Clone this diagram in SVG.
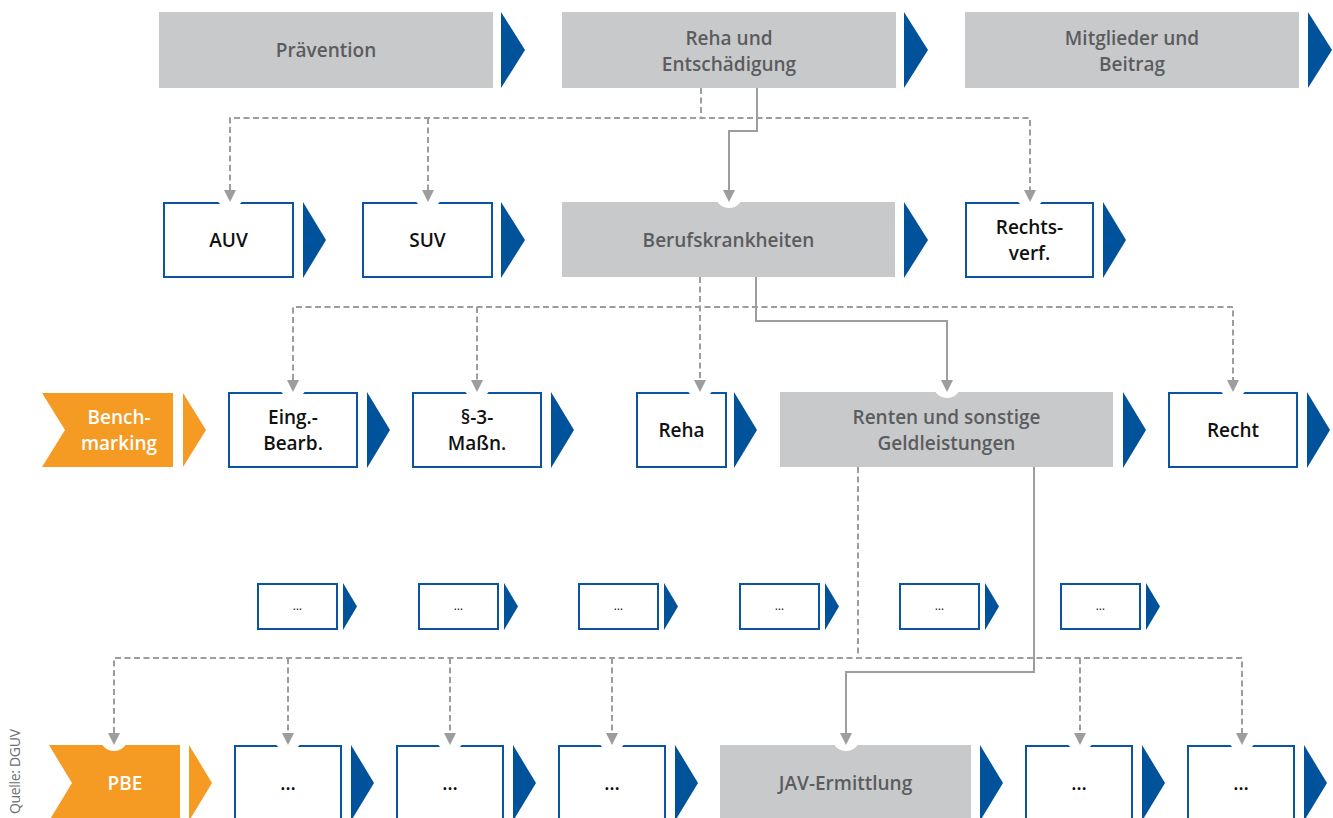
<svg xmlns="http://www.w3.org/2000/svg" xmlns:xlink="http://www.w3.org/1999/xlink" width="1333" height="818" viewBox="0 0 1333 818">
<style>
.g{fill:#c8c9cb}
.o{fill:#fff;stroke:#0a55a0;stroke-width:2}
.bt{fill:#00529b}
.or{fill:#f59a23}
.t{font-family:"Open Sans","Liberation Sans",sans-serif;font-size:19px;font-weight:600;text-anchor:middle}
.tg{fill:#5b5c5e}
.tk{fill:#111}
.tw{fill:#fff}
.td{font-family:"Open Sans","Liberation Sans",sans-serif;font-size:12px;fill:#111;text-anchor:middle}
.dash{fill:none;stroke:#9d9d9f;stroke-width:2;stroke-dasharray:6 3.5}
.sol{fill:none;stroke:#9d9d9f;stroke-width:2}
.ah{fill:#9d9d9f}
.notch{fill:#fff}
</style>
<rect width="1333" height="818" fill="#fff"/>

<g id="praevention"><rect class="g" x="159" y="12" width="334" height="76"/><polygon class="bt" points="501,12 525,50 501,88"/><text class="t tg" x="326" y="56.5">Prävention</text></g>
<g id="reha-entschaedigung"><rect class="g" x="562" y="12" width="334" height="76"/><polygon class="bt" points="904,12 928,50 904,88"/><text class="t tg" x="729" y="44.5">Reha und</text><text class="t tg" x="729" y="70.5">Entschädigung</text></g>
<g id="mitglieder"><rect class="g" x="965" y="12" width="334" height="76"/><polygon class="bt" points="1308,12 1332,50 1308,88"/><text class="t tg" x="1132" y="44.5">Mitglieder und</text><text class="t tg" x="1132" y="70.5">Beitrag</text></g>

<g id="auv"><rect class="o" x="164" y="203" width="129" height="74"/><polygon class="bt" points="303,202 326,240 303,278"/><text class="t tk" x="228.5" y="246.5">AUV</text></g>
<g id="suv"><rect class="o" x="363" y="203" width="129" height="74"/><polygon class="bt" points="501,202 525,240 501,278"/><text class="t tk" x="427.5" y="246.5">SUV</text></g>
<g id="berufskrankheiten"><rect class="g" x="562" y="202" width="333" height="75"/><polygon class="bt" points="904,202 928,240 904,278"/><text class="t tg" x="728.5" y="246.5">Berufskrankheiten</text></g>
<g id="rechtsverf"><rect class="o" x="966" y="203" width="127" height="74"/><polygon class="bt" points="1103,202 1126,240 1103,278"/><text class="t tk" x="1029.5" y="233.5">Rechts-</text><text class="t tk" x="1029.5" y="259.5">verf.</text></g>

<g id="benchmarking"><polygon class="or" points="42,393 173,393 173,467 42,467 65,430"/><polygon class="or" points="183,393 206,430 183,467"/><text class="t tw" x="119" y="423.5">Bench-</text><text class="t tw" x="119" y="449.5">marking</text></g>
<g id="eing"><rect class="o" x="229" y="393" width="128" height="74"/><polygon class="bt" points="367,392 390,430 367,468"/><text class="t tk" x="293" y="423.5">Eing.-</text><text class="t tk" x="293" y="449.5">Bearb.</text></g>
<g id="para3"><rect class="o" x="413" y="393" width="128" height="74"/><polygon class="bt" points="551,392 574,430 551,468"/><text class="t tk" x="477" y="423.5">§-3-</text><text class="t tk" x="477" y="449.5">Maßn.</text></g>
<g id="reha"><rect class="o" x="637" y="393" width="89" height="74"/><polygon class="bt" points="734,392 757,430 734,468"/><text class="t tk" x="681.5" y="436.5">Reha</text></g>
<g id="renten"><rect class="g" x="780" y="392" width="333" height="75"/><polygon class="bt" points="1123,392 1146,430 1123,468"/><text class="t tg" x="946.5" y="423.5">Renten und sonstige</text><text class="t tg" x="946.5" y="449.5">Geldleistungen</text></g>
<g id="recht"><rect class="o" x="1169" y="393" width="128" height="74"/><polygon class="bt" points="1307,392 1330,430 1307,468"/><text class="t tk" x="1233" y="436.5">Recht</text></g>

<g id="d1"><rect class="o" x="258" y="584" width="79" height="45"/><polygon class="bt" points="343,583 357,606.5 343,630"/><text class="td" x="297.5" y="610">…</text></g>
<g id="d2"><rect class="o" x="419" y="584" width="79" height="45"/><polygon class="bt" points="504,583 518,606.5 504,630"/><text class="td" x="458.5" y="610">…</text></g>
<g id="d3"><rect class="o" x="579" y="584" width="79" height="45"/><polygon class="bt" points="664,583 678,606.5 664,630"/><text class="td" x="618.5" y="610">…</text></g>
<g id="d4"><rect class="o" x="740" y="584" width="79" height="45"/><polygon class="bt" points="825,583 839,606.5 825,630"/><text class="td" x="779.5" y="610">…</text></g>
<g id="d5"><rect class="o" x="900" y="584" width="79" height="45"/><polygon class="bt" points="985,583 999,606.5 985,630"/><text class="td" x="939.5" y="610">…</text></g>
<g id="d6"><rect class="o" x="1061" y="584" width="79" height="45"/><polygon class="bt" points="1146,583 1160,606.5 1146,630"/><text class="td" x="1100.5" y="610">…</text></g>

<g id="pbe"><polygon class="or" points="49,745 180,745 180,821 49,821 72,783"/><polygon class="or" points="189,745 212,783 189,821"/><text class="t tw" x="125" y="789.5">PBE</text></g>
<g id="b1"><rect class="o" x="235" y="746" width="106" height="76"/><polygon class="bt" points="351,745 374,783 351,821"/><text class="t tk" x="288" y="789.5">…</text></g>
<g id="b2"><rect class="o" x="397" y="746" width="106" height="76"/><polygon class="bt" points="513,745 536,783 513,821"/><text class="t tk" x="450" y="789.5">…</text></g>
<g id="b3"><rect class="o" x="559" y="746" width="106" height="76"/><polygon class="bt" points="675,745 698,783 675,821"/><text class="t tk" x="612" y="789.5">…</text></g>
<g id="jav"><rect class="g" x="720" y="745" width="251" height="76"/><polygon class="bt" points="980,745 1003,783 980,821"/><text class="t tg" x="845.5" y="789.5">JAV-Ermittlung</text></g>
<g id="b5"><rect class="o" x="1026" y="746" width="106" height="76"/><polygon class="bt" points="1142,745 1165,783 1142,821"/><text class="t tk" x="1079" y="789.5">…</text></g>
<g id="b6"><rect class="o" x="1188" y="746" width="106" height="76"/><polygon class="bt" points="1304,745 1327,783 1304,821"/><text class="t tk" x="1241" y="789.5">…</text></g>

<g id="connectors">
<g class="notch">
<circle cx="230" cy="194" r="14"/><circle cx="428" cy="194" r="14"/><circle cx="1030" cy="194" r="14"/><circle cx="729" cy="194" r="14"/>
<circle cx="293" cy="384" r="14"/><circle cx="477" cy="384" r="14"/><circle cx="700" cy="384" r="14"/><circle cx="947" cy="384" r="14"/><circle cx="1233" cy="384" r="14"/>
<circle cx="114" cy="737" r="14"/><circle cx="288" cy="737" r="14"/><circle cx="450" cy="737" r="14"/><circle cx="612" cy="737" r="14"/><circle cx="846" cy="737" r="14"/><circle cx="1080" cy="737" r="14"/><circle cx="1242" cy="737" r="14"/>
</g>
<path class="dash" d="M701,88 V118"/>
<path class="dash" d="M230,190 V118 H1030 V190"/>
<path class="dash" d="M428,118 V190"/>
<path class="sol" d="M757,88 V131 H729 V190"/>
<path class="dash" d="M700,277 V380"/>
<path class="dash" d="M293,380 V307 H1233 V380"/>
<path class="dash" d="M477,307 V380"/>
<path class="sol" d="M756,277 V321 H947 V380"/>
<path class="dash" d="M858,467 V658"/>
<path class="dash" d="M114,733 V658 H1242 V733"/>
<path class="dash" d="M288,658 V733"/>
<path class="dash" d="M450,658 V733"/>
<path class="dash" d="M612,658 V733"/>
<path class="dash" d="M1080,658 V733"/>
<path class="sol" d="M1034,467 V672 H846 V733"/>
<g class="ah">
<polygon points="224,190 236,190 230,202"/><polygon points="422,190 434,190 428,202"/><polygon points="1024,190 1036,190 1030,202"/><polygon points="723,190 735,190 729,202"/>
<polygon points="287,380 299,380 293,392"/><polygon points="471,380 483,380 477,392"/><polygon points="694,380 706,380 700,392"/><polygon points="941,380 953,380 947,392"/><polygon points="1227,380 1239,380 1233,392"/>
<polygon points="108,733 120,733 114,745"/><polygon points="282,733 294,733 288,745"/><polygon points="444,733 456,733 450,745"/><polygon points="606,733 618,733 612,745"/><polygon points="840,733 852,733 846,745"/><polygon points="1074,733 1086,733 1080,745"/><polygon points="1236,733 1248,733 1242,745"/>
</g>
</g>

<text transform="translate(20,814) rotate(-90)" font-family="'Open Sans','Liberation Sans',sans-serif" font-size="14" fill="#6d6e70" textLength="85" lengthAdjust="spacing">Quelle: DGUV</text>
</svg>
